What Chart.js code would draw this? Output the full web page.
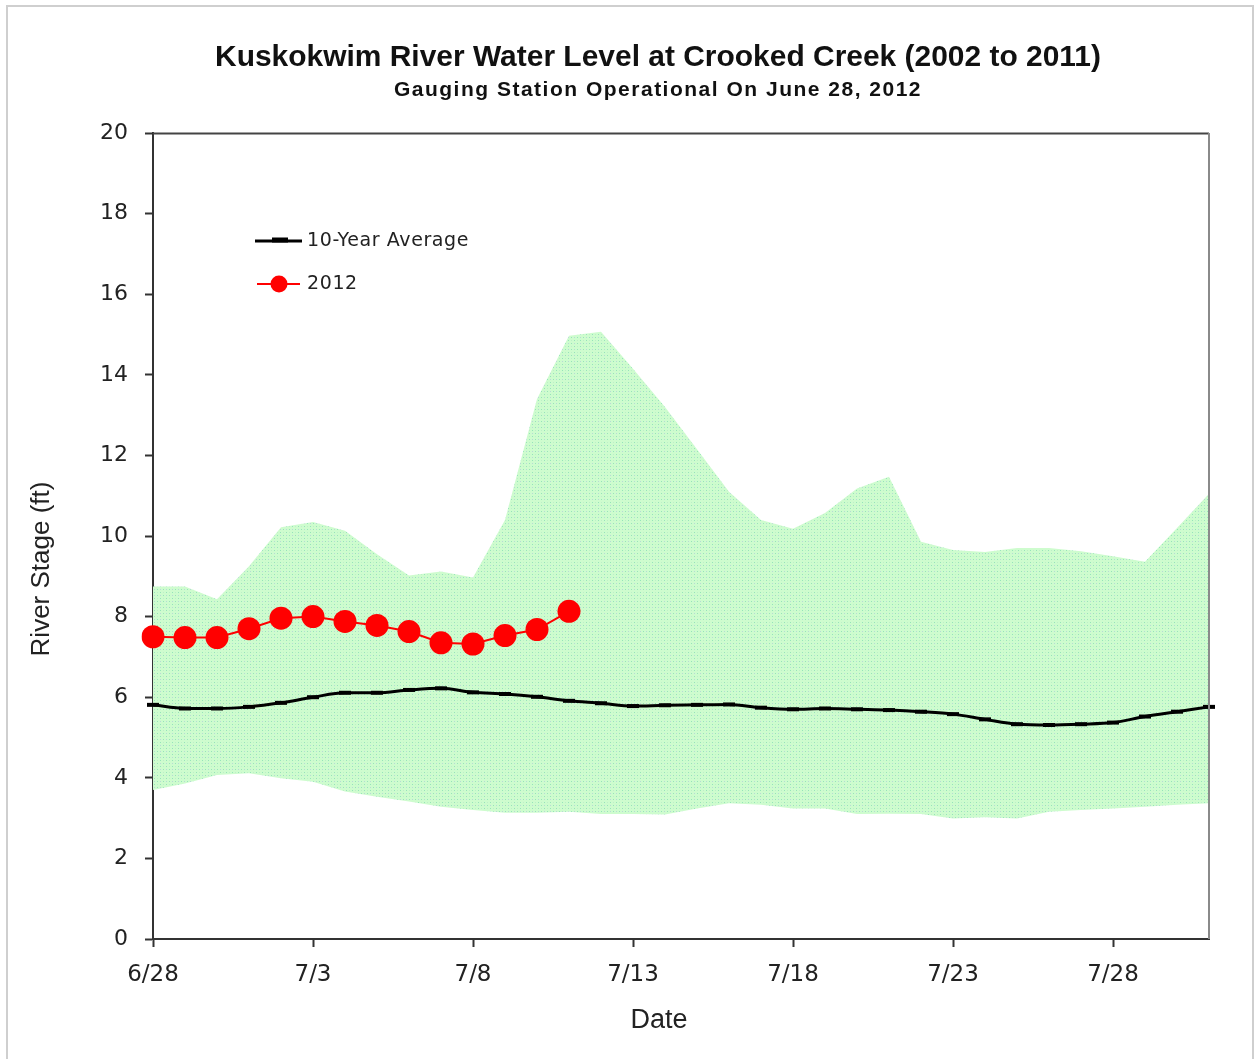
<!DOCTYPE html>
<html>
<head>
<meta charset="utf-8">
<script src="https://cdn.jsdelivr.net/npm/chart.js@4.4.1/dist/chart.umd.min.js"></script>
<style>
  html, body { margin: 0; padding: 0; background: #fff; }
  #wrap { position: relative; width: 1255px; height: 1059px; overflow: hidden; }
  #frame { position: absolute; left: 6px; top: 5px; width: 1244px; height: 1100px;
           border-left: 2px solid #cfcfcf; border-top: 2px solid #cfcfcf; border-right: 2px solid #cfcfcf; }
  canvas { position: absolute; left: 0; top: 0; }
</style>
</head>
<body>
<div id="wrap">
  <div id="frame"></div>
  <canvas id="c" width="1255" height="1059"></canvas>
</div>
<script>
// ---- Data ----
const dates = ['6/28','6/29','6/30','7/1','7/2','7/3','7/4','7/5','7/6','7/7','7/8','7/9','7/10','7/11','7/12','7/13','7/14','7/15','7/16','7/17','7/18','7/19','7/20','7/21','7/22','7/23','7/24','7/25','7/26','7/27','7/28','7/29','7/30','7/31'];
const rangeMax = [8.75,8.75,8.43,9.25,10.22,10.35,10.13,9.55,9.02,9.12,8.97,10.4,13.4,14.97,15.07,14.15,13.2,12.15,11.1,10.4,10.18,10.57,11.18,11.47,9.86,9.65,9.6,9.7,9.7,9.62,9.5,9.36,10.2,11.05];
const rangeMin = [3.7,3.86,4.07,4.11,3.99,3.9,3.66,3.53,3.41,3.28,3.2,3.13,3.13,3.16,3.1,3.1,3.09,3.24,3.37,3.33,3.24,3.24,3.1,3.11,3.1,2.99,3.02,2.99,3.16,3.2,3.24,3.28,3.33,3.37];
const avg10 = [5.81,5.72,5.72,5.76,5.86,6.0,6.11,6.11,6.18,6.22,6.12,6.08,6.01,5.91,5.85,5.78,5.8,5.81,5.82,5.74,5.7,5.72,5.7,5.68,5.64,5.58,5.45,5.33,5.31,5.33,5.37,5.52,5.64,5.76];
const stage2012 = [7.5,7.48,7.48,7.7,7.96,8.0,7.88,7.78,7.63,7.35,7.32,7.53,7.68,8.13];
const yTicks = [0,2,4,6,8,10,12,14,16,18,20];
const labelEvery = 5;

const titleText = 'Kuskokwim River Water Level at Crooked Creek (2002 to 2011)';
const subtitleText = 'Gauging Station Operational On June 28, 2012';
const yTitleText = 'River Stage (ft)';
const xTitleText = 'Date';
const legendAvg = '10-Year Average';
const legend2012 = '2012';

// stippled light-green fill
function makePattern() {
  const p = document.createElement('canvas');
  p.width = 6; p.height = 6;
  const g = p.getContext('2d');
  g.fillStyle = 'rgb(206,252,206)';
  g.fillRect(0, 0, 6, 6);
  g.fillStyle = 'rgb(150,228,185)';
  g.fillRect(1, 1, 1, 1);
  g.fillRect(4, 4, 1, 1);
  g.fillStyle = 'rgb(185,215,215)';
  g.fillRect(4, 1, 1, 1);
  g.fillStyle = 'rgb(190,238,200)';
  g.fillRect(1, 4, 1, 1);
  return g.createPattern(p, 'repeat');
}
const ctx = document.getElementById('c').getContext('2d');
const bandFill = makePattern();

const decor = {
  id: 'decor',
  afterDraw(chart) {
    const c = chart.ctx;
    const a = chart.chartArea;
    c.save();
    // plot top & right borders
    c.lineWidth = 2;
    c.strokeStyle = '#444';
    c.beginPath(); c.moveTo(a.left, a.top + 0.5); c.lineTo(a.right, a.top + 0.5); c.stroke();
    c.strokeStyle = '#8a8a8a';
    c.beginPath(); c.moveTo(a.right, a.top); c.lineTo(a.right, a.bottom); c.stroke();

    // titles
    c.fillStyle = '#111';
    c.textAlign = 'center';
    c.textBaseline = 'middle';
    c.font = 'bold 30px "Liberation Sans", Arial, sans-serif';
    c.fillText(titleText, 658, 58, 886);
    c.font = 'bold 21px "Liberation Sans", Arial, sans-serif';
    try { c.letterSpacing = '1.5px'; } catch (e) {}
    c.fillText(subtitleText, 658, 90, 540);
    try { c.letterSpacing = '0px'; } catch (e) {}

    // axis titles
    c.fillStyle = '#222';
    c.font = '27px "Liberation Sans", Arial, sans-serif';
    c.fillText(xTitleText, 659, 1021);
    c.save();
    c.translate(42, 569);
    c.rotate(-Math.PI / 2);
    c.font = '26px "Liberation Sans", Arial, sans-serif';
    c.fillText(yTitleText, 0, 0);
    c.restore();

    // legend
    c.textAlign = 'left';
    c.font = '19px "DejaVu Sans", Verdana, sans-serif';
    c.fillStyle = '#222';
    c.strokeStyle = '#000';
    c.lineWidth = 3;
    c.beginPath(); c.moveTo(255, 241); c.lineTo(302, 241); c.stroke();
    c.lineWidth = 5;
    c.beginPath(); c.moveTo(272, 240); c.lineTo(288, 240); c.stroke();
    try { c.letterSpacing = '0.6px'; } catch (e) {}
    c.fillText(legendAvg, 307, 241);
    c.strokeStyle = '#ff0000';
    c.lineWidth = 2;
    c.beginPath(); c.moveTo(257, 284); c.lineTo(300, 284); c.stroke();
    c.fillStyle = '#ff0000';
    c.beginPath(); c.arc(279, 284, 8.5, 0, Math.PI * 2); c.fill();
    c.fillStyle = '#222';
    c.fillText(legend2012, 307, 284);
    try { c.letterSpacing = '0px'; } catch (e) {}
    c.restore();
  }
};

new Chart(ctx, {
  type: 'line',
  data: {
    labels: dates,
    datasets: [
      {
        label: '2012',
        data: stage2012,
        borderColor: '#ff0000',
        backgroundColor: '#ff0000',
        borderWidth: 2,
        pointRadius: 11.5,
        pointBackgroundColor: '#ff0000',
        pointBorderColor: '#ff0000',
        pointBorderWidth: 0,
        tension: 0,
        fill: false,
        order: 0
      },
      {
        label: '10-Year Average',
        data: avg10,
        borderColor: '#000',
        backgroundColor: '#000',
        borderWidth: 3,
        pointStyle: 'line',
        pointRadius: 6,
        pointBorderWidth: 4,
        pointBorderColor: '#000',
        cubicInterpolationMode: 'monotone',
        fill: false,
        order: 1
      },
      {
        label: 'Max',
        data: rangeMax,
        borderWidth: 0,
        borderColor: 'rgba(0,0,0,0)',
        pointRadius: 0,
        tension: 0,
        fill: '+1',
        backgroundColor: bandFill,
        order: 2
      },
      {
        label: 'Min',
        data: rangeMin,
        borderWidth: 0,
        borderColor: 'rgba(0,0,0,0)',
        pointRadius: 0,
        tension: 0,
        fill: false,
        order: 3
      }
    ]
  },
  options: {
    responsive: false,
    animation: false,
    devicePixelRatio: 1,
    layout: { padding: { top: 133, left: 0, right: 46, bottom: 0 } },
    plugins: {
      legend: { display: false },
      title: { display: false },
      tooltip: { enabled: false }
    },
    scales: {
      x: {
        type: 'category',
        offset: false,
        afterFit(s) { s.height = 120; },
        grid: {
          drawOnChartArea: false,
          drawTicks: true,
          tickLength: 8,
          tickWidth: 2,
          tickColor: (c) => (c.index % labelEvery === 0 ? '#333' : 'rgba(0,0,0,0)')
        },
        border: { color: '#333', width: 2 },
        ticks: {
          autoSkip: false,
          maxRotation: 0,
          padding: 14,
          color: '#222',
          font: { family: '"DejaVu Sans", Verdana, sans-serif', size: 23 },
          callback: function (v, i) { return i % labelEvery === 0 ? dates[i] : ''; }
        }
      },
      y: {
        min: 0,
        max: 20,
        afterFit(s) { s.width = 153; },
        afterBuildTicks(s) { s.ticks = yTicks.map(v => ({ value: v })); },
        grid: {
          drawOnChartArea: false,
          tickLength: 8,
          tickWidth: 2,
          tickColor: '#333'
        },
        border: { color: '#333', width: 2 },
        ticks: {
          padding: 17,
          color: '#222',
          font: { family: '"DejaVu Sans", Verdana, sans-serif', size: 22 }
        }
      }
    }
  },
  plugins: [decor]
});
</script>
</body>
</html>
